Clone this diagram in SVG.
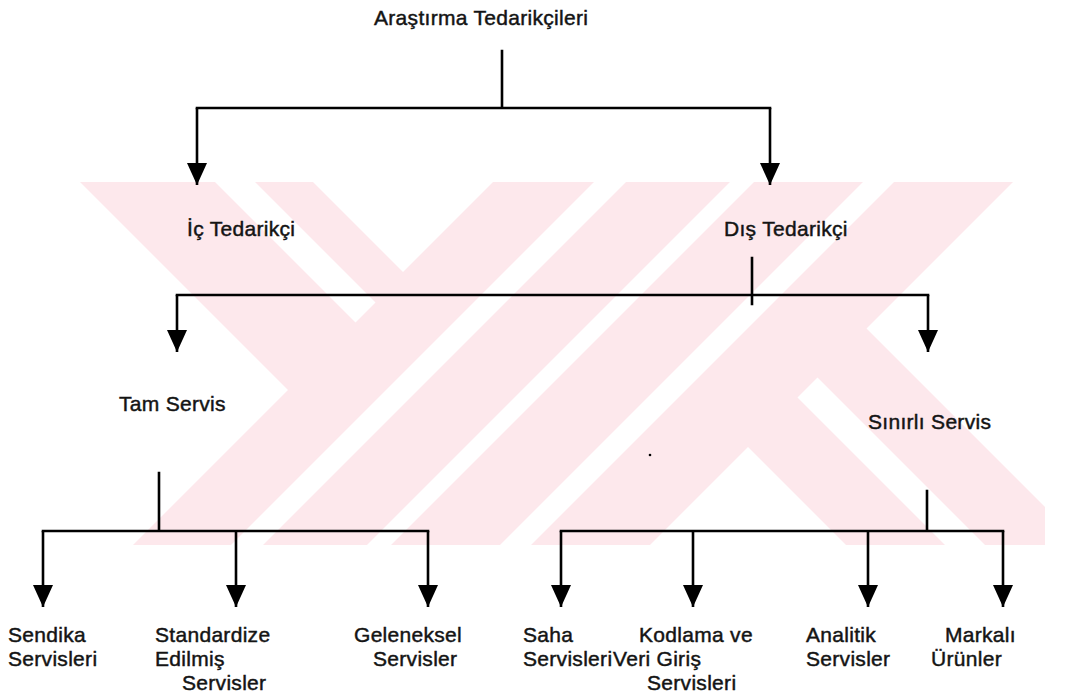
<svg xmlns="http://www.w3.org/2000/svg" width="1078" height="694" viewBox="0 0 1078 694">
  <style>
    .lbl { font-family: "Liberation Sans", Arial, sans-serif; font-size: 21px; letter-spacing: 0.3px; fill: #141414; stroke: #141414; stroke-width: 0.45; }
    .wire { fill: none; stroke: #000; stroke-width: 2.6; stroke-linecap: square; }
    .drop { fill: none; stroke: #000; stroke-width: 2.6; marker-end: url(#head); }
    .mark { fill: #fde8ec; }
    .cut { fill: #ffffff; }
  </style>
  <defs>
    <marker id="head" markerUnits="userSpaceOnUse" viewBox="0 0 22 20" markerWidth="22" markerHeight="20" refX="22" refY="10" orient="auto">
      <path d="M0,0 L22,10 L0,20 Z" fill="#000"/>
    </marker>
  </defs>

  <rect width="1078" height="694" fill="#ffffff"/>

  <!-- background emblem: diagonal bands -->
  <g id="emblem">
    <polygon class="mark" points="80,182 1013,182 866.5,328.5 1045,507 1045,545 133,545 288,390"/>
    <polygon class="cut" points="215,182 255,182 375.5,302.5 355.5,322.5"/>
    <polygon class="cut" points="313,182 493,182 403,272"/>
    <polygon class="cut" points="594,182 626,182 263,545 231,545"/>
    <polygon class="cut" points="730,182 754,182 391,545 367,545"/>
    <polygon class="cut" points="863,182 894,182 531,545 500,545"/>
    <polygon class="cut" points="748,447 650,545 846,545"/>
    <polygon class="cut" points="797.5,397.5 817.5,377.5 985,545 945,545"/>
  </g>

  <!-- connectors -->
  <g id="connectors">
    <path class="wire" d="M502,51 V108 M197,108 H770"/>
    <path class="drop" d="M197,108 V185"/>
    <path class="drop" d="M770,108 V185"/>

    <path class="wire" d="M752,258 V304 M177,295 H928"/>
    <path class="drop" d="M177,295 V352"/>
    <path class="drop" d="M928,295 V352"/>

    <path class="wire" d="M159,473 V531 M43,531 H428"/>
    <path class="drop" d="M43,531 V607"/>
    <path class="drop" d="M236,531 V607"/>
    <path class="drop" d="M428,531 V607"/>

    <path class="wire" d="M927,491 V531 M561,531 H1003"/>
    <path class="drop" d="M561,531 V607"/>
    <path class="drop" d="M693,531 V607"/>
    <path class="drop" d="M868,531 V607"/>
    <path class="drop" d="M1003,531 V607"/>
  </g>

  <circle cx="650" cy="455" r="1.3" fill="#000"/>

  <!-- nodes -->
  <g id="root"><text class="lbl" x="374" y="25">Araştırma Tedarikçileri</text></g>
  <g id="ic-tedarikci"><text class="lbl" x="187" y="236">İç Tedarikçi</text></g>
  <g id="dis-tedarikci"><text class="lbl" x="724" y="236">Dış Tedarikçi</text></g>
  <g id="tam-servis"><text class="lbl" x="119" y="411">Tam Servis</text></g>
  <g id="sinirli-servis"><text class="lbl" x="868" y="429">Sınırlı Servis</text></g>

  <g id="sendika">
    <text class="lbl" x="8" y="642">Sendika</text>
    <text class="lbl" x="8" y="666">Servisleri</text>
  </g>
  <g id="standardize">
    <text class="lbl" x="155" y="642">Standardize</text>
    <text class="lbl" x="155" y="666">Edilmiş</text>
    <text class="lbl" x="182" y="690">Servisler</text>
  </g>
  <g id="geleneksel">
    <text class="lbl" x="354" y="642">Geleneksel</text>
    <text class="lbl" x="373" y="666">Servisler</text>
  </g>
  <g id="saha">
    <text class="lbl" x="523" y="642">Saha</text>
    <text class="lbl" x="523" y="666">Servisleri</text>
  </g>
  <g id="kodlama">
    <text class="lbl" x="639" y="642">Kodlama ve</text>
    <text class="lbl" x="613" y="666">Veri Giriş</text>
    <text class="lbl" x="647" y="690">Servisleri</text>
  </g>
  <g id="analitik">
    <text class="lbl" x="806" y="642">Analitik</text>
    <text class="lbl" x="806" y="666">Servisler</text>
  </g>
  <g id="markali">
    <text class="lbl" x="945" y="642">Markalı</text>
    <text class="lbl" x="931" y="666">Ürünler</text>
  </g>
</svg>
